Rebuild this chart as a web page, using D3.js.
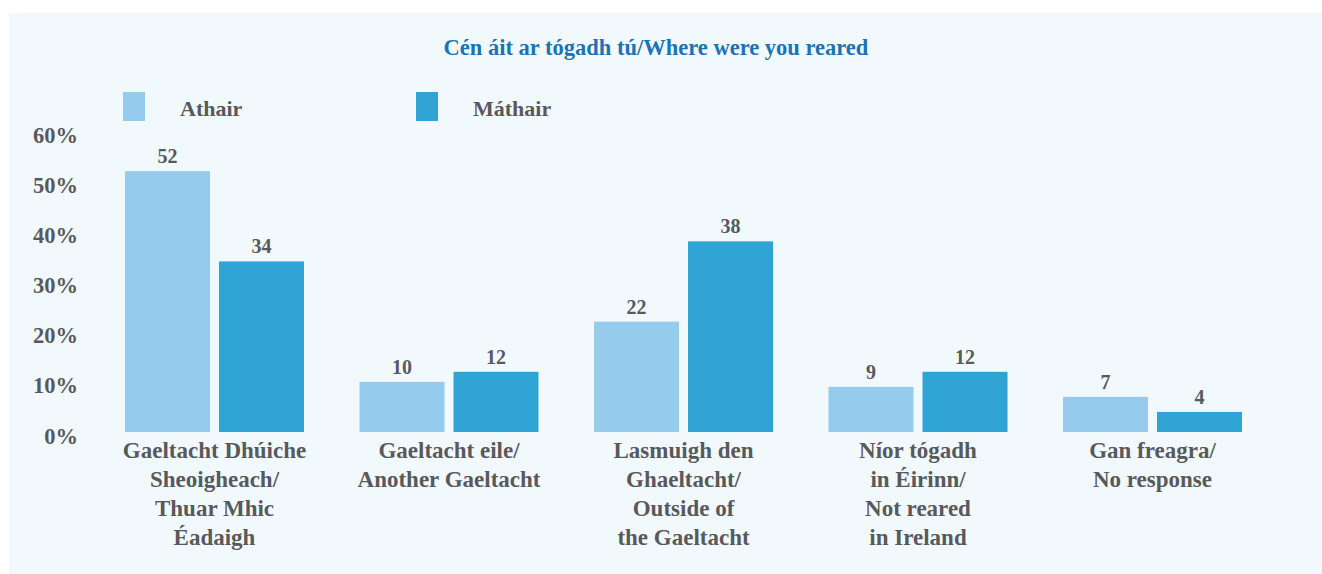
<!DOCTYPE html>
<html>
<head>
<meta charset="utf-8">
<script src="https://cdn.jsdelivr.net/npm/d3@7"></script>
<style>
  html, body { margin: 0; padding: 0; background: #fff; }
  svg { display: block; }
  text { font-family: "Liberation Serif", "DejaVu Serif", serif; font-weight: bold; }
</style>
</head>
<body>
<div id="chart"></div>
<script>
// Chart data
const categories = [
  ['Gaeltacht Dhúiche', 'Sheoigheach/', 'Thuar Mhic', 'Éadaigh'],
  ['Gaeltacht eile/', 'Another Gaeltacht'],
  ['Lasmuigh den', 'Ghaeltacht/', 'Outside of', 'the Gaeltacht'],
  ['Níor tógadh', 'in Éirinn/', 'Not reared', 'in Ireland'],
  ['Gan freagra/', 'No response']
];
const seriesNames = ['Athair', 'Máthair'];
const athair = [52, 10, 22, 9, 7];
const mathair = [34, 12, 38, 12, 4];
const yTicks = [0, 10, 20, 30, 40, 50, 60];

const width = 1322;
const height = 574;
const colors = ['#97cbed', '#31a4d6'];
const textColor = '#58595b';

const svg = d3.select('#chart')
  .append('svg')
  .attr('width', width)
  .attr('height', height);

// light panel behind everything
svg.append('rect')
  .attr('x', 9)
  .attr('y', 13)
  .attr('width', width - 9)
  .attr('height', height - 13)
  .attr('fill', '#f2f9fd');

// title
svg.append('text')
  .attr('x', 656)
  .attr('y', 55)
  .attr('text-anchor', 'middle')
  .attr('font-size', '22.5px')
  .attr('fill', '#1a73b6')
  .text('Cén áit ar tógadh tú/Where were you reared');

// scales
const x = d3.scaleBand()
  .domain(d3.range(categories.length))
  .range([125, 1242])
  .paddingInner(55.5 / 234.5)
  .paddingOuter(0);

const xInner = d3.scaleBand()
  .domain(seriesNames)
  .range([0, x.bandwidth()])
  .paddingInner(9 / 94);

const y = d3.scaleLinear()
  .domain([0, 60])
  .range([432, 131]);

// y axis labels (no line, no ticks)
const yAxis = d3.axisLeft(y)
  .tickValues(yTicks)
  .tickFormat(d => d + '%')
  .tickSize(0)
  .tickPadding(0);

const yg = svg.append('g')
  .attr('transform', 'translate(78,0)')
  .call(yAxis);
yg.select('.domain').remove();
yg.selectAll('text')
  .attr('font-family', '"Liberation Serif", serif')
  .attr('font-weight', 'bold')
  .attr('font-size', '22.5px')
  .attr('fill', textColor)
  .attr('dy', 0)
  .attr('y', 11);

// bars
const rows = categories.map((c, i) => ({ i: i, values: [athair[i], mathair[i]] }));

const groups = svg.selectAll('.group')
  .data(rows)
  .enter()
  .append('g')
  .attr('class', 'group')
  .attr('transform', d => `translate(${x(d.i)},0)`);

groups.selectAll('rect')
  .data(d => d.values.map((v, k) => ({ key: seriesNames[k], value: v, k: k })))
  .enter()
  .append('rect')
  .attr('x', d => xInner(d.key))
  .attr('y', d => y(d.value))
  .attr('width', xInner.bandwidth())
  .attr('height', d => y(0) - y(d.value))
  .attr('fill', d => colors[d.k]);

groups.selectAll('.val')
  .data(d => d.values.map((v, k) => ({ key: seriesNames[k], value: v })))
  .enter()
  .append('text')
  .attr('class', 'val')
  .attr('x', d => xInner(d.key) + xInner.bandwidth() / 2)
  .attr('y', d => y(d.value) - 8)
  .attr('text-anchor', 'middle')
  .attr('font-size', '20px')
  .attr('fill', textColor)
  .text(d => d.value);

// category labels, several lines each
groups.append('text')
  .attr('text-anchor', 'middle')
  .attr('font-size', '23px')
  .attr('fill', textColor)
  .selectAll('tspan')
  .data(d => categories[d.i])
  .enter()
  .append('tspan')
  .attr('x', x.bandwidth() / 2)
  .attr('y', (d, j) => 458 + j * 29)
  .text(d => d);

// legend
const legendX = [123, 416];
const legend = svg.selectAll('.legend')
  .data(seriesNames)
  .enter()
  .append('g')
  .attr('class', 'legend')
  .attr('transform', (d, i) => `translate(${legendX[i]},92)`);

legend.append('rect')
  .attr('width', 22)
  .attr('height', 29)
  .attr('fill', (d, i) => colors[i]);

legend.append('text')
  .attr('x', 57)
  .attr('y', 24)
  .attr('font-size', '22px')
  .attr('fill', textColor)
  .text(d => d);
</script>
</body>
</html>
